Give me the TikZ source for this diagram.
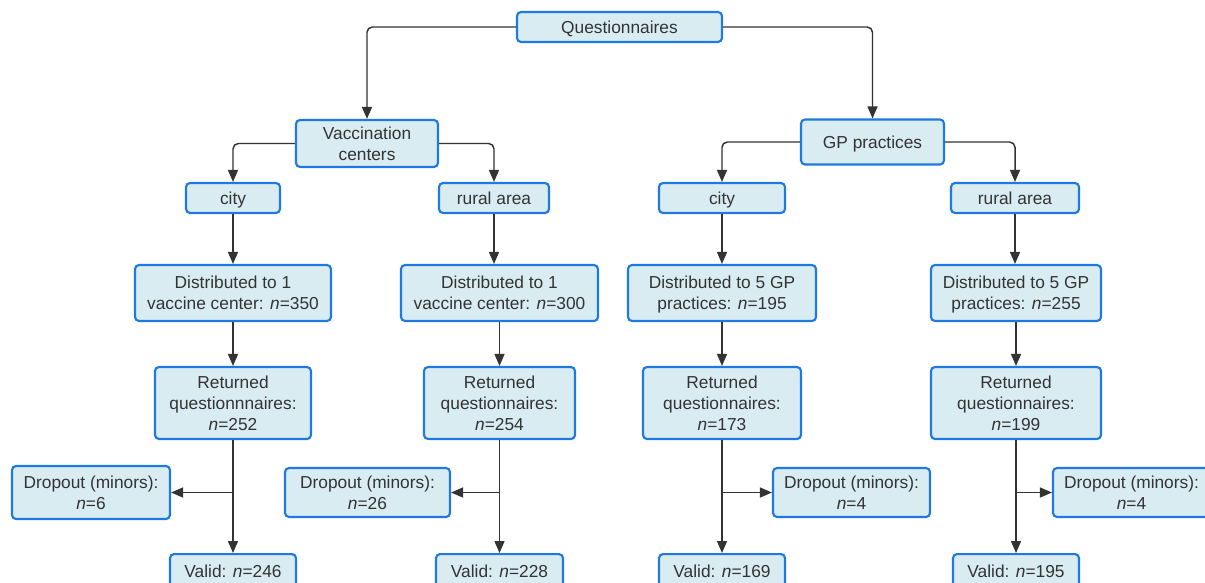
\documentclass[tikz,border=0pt]{standalone}
\usepackage{fontspec}
\setmainfont{Liberation Sans}
\usetikzlibrary{arrows.meta, positioning}
\newlength\px
\setlength\px{0.75pt}
\definecolor{boxfill}{HTML}{D9ECF2}
\definecolor{boxline}{HTML}{1F7AE0}
\definecolor{ink}{HTML}{333333}
\newcommand{\nn}[1]{\textit{n}=#1}

\begin{document}
\begin{tikzpicture}[x=0.75pt, y=-0.75pt,
    box/.style={draw=boxline, line width=1.6pt, fill=boxfill, rounded corners=3pt,
      align=center, inner sep=0pt, text depth=0pt, text=ink, font=\fontsize{13}{15.8}\selectfont},
    link/.style={draw=ink, line width=1.1pt, rounded corners=4pt,
      -{Triangle[length=9pt, width=7.5pt]}}]
    \clip (0,0) rectangle (1205,582);
    \useasboundingbox (0,0) rectangle (1205,582);

    % Top
    \node[box, minimum width=205\px, minimum height=30\px] (quest) at (619.5,27) {Questionnaires};
    \node[box, minimum width=142\px, minimum height=47\px] (vacc) at (367,143.5) {Vaccination\\centers};
    \node[box, minimum width=143\px, minimum height=45\px] (gp) at (872.5,142) {GP practices};

    % Vaccination centers
    \node[box, minimum width=94\px, minimum height=30\px] (vcity) at (233,198) {city};
    \node[box, minimum width=110\px, minimum height=30\px] (vrural) at (494,198) {rural area};
    \node[box, minimum width=196\px, minimum height=56\px] (vcdist) at (233,293) {Distributed to 1\\vaccine center: \nn{350}};
    \node[box, minimum width=197\px, minimum height=56\px] (vrdist) at (499.5,293) {Distributed to 1\\vaccine center: \nn{300}};
    \node[box, minimum width=156\px, minimum height=72\px] (vcret) at (233,403) {Returned\\questionnnaires:\\\nn{252}};
    \node[box, minimum width=151\px, minimum height=72\px] (vrret) at (499.5,403) {Returned\\questionnaires:\\\nn{254}};
    \node[box, minimum width=158\px, minimum height=53\px] (vcdrop) at (91,492.5) {Dropout (minors):\\\nn{6}};
    \node[box, minimum width=165\px, minimum height=49\px] (vrdrop) at (367.5,492.5) {Dropout (minors):\\\nn{26}};
    \node[box, minimum width=126\px, minimum height=34\px, anchor=north] (vcval) at (233,553) {Valid: \nn{246}};
    \node[box, minimum width=127\px, minimum height=34\px, anchor=north] (vrval) at (499.5,553) {Valid: \nn{228}};

    % GP practices
    \node[box, minimum width=126\px, minimum height=30\px] (gcity) at (722,198) {city};
    \node[box, minimum width=128\px, minimum height=30\px] (grural) at (1015,198) {rural area};
    \node[box, minimum width=188\px, minimum height=56\px] (gcdist) at (722,293) {Distributed to 5 GP\\practices: \nn{195}};
    \node[box, minimum width=170\px, minimum height=56\px] (grdist) at (1016,293) {Distributed to 5 GP\\practices: \nn{255}};
    \node[box, minimum width=158\px, minimum height=72\px] (gcret) at (722,403) {Returned\\questionnaires:\\\nn{173}};
    \node[box, minimum width=170\px, minimum height=72\px] (grret) at (1016,403) {Returned\\questionnaires:\\\nn{199}};
    \node[box, minimum width=157\px, minimum height=49\px] (gcdrop) at (851.5,492.5) {Dropout (minors):\\\nn{4}};
    \node[box, minimum width=157\px, minimum height=49\px] (grdrop) at (1131.5,492.5) {Dropout (minors):\\\nn{4}};
    \node[box, minimum width=126\px, minimum height=34\px, anchor=north] (gcval) at (722,553) {Valid: \nn{169}};
    \node[box, minimum width=126\px, minimum height=34\px, anchor=north] (grval) at (1016,553) {Valid: \nn{195}};

    % Links
    \draw[link] (quest.west) -| (vacc.north);
    \draw[link] (quest.east) -| (gp.north);
    \draw[link] (vacc.west) -| (vcity.north);
    \draw[link] (vacc.east) -| (vrural.north);
    \draw[link] (gp.west) -| (gcity.north);
    \draw[link] (gp.east) -| (grural.north);

    \draw[link] (vcity) -- (vcdist);
    \draw[link] (vrural.south) -- (vrural.south |- vrdist.north);
    \draw[link] (gcity) -- (gcdist);
    \draw[link] (grural.south) -- (grural.south |- grdist.north);

    \draw[link] (vcdist) -- (vcret);
    \draw[link] (vrdist) -- (vrret);
    \draw[link] (gcdist) -- (gcret);
    \draw[link] (grdist) -- (grret);

    \draw[link] (vcret) -- (vcval);
    \draw[link] (vrret) -- (vrval);
    \draw[link] (gcret) -- (gcval);
    \draw[link] (grret) -- (grval);

    \draw[link] (vcret.south |- vcdrop.east) -- (vcdrop.east);
    \draw[link] (vrret.south |- vrdrop.east) -- (vrdrop.east);
    \draw[link] (gcret.south |- gcdrop.west) -- (gcdrop.west);
    \draw[link] (grret.south |- grdrop.west) -- (grdrop.west);
\end{tikzpicture}
\end{document}
